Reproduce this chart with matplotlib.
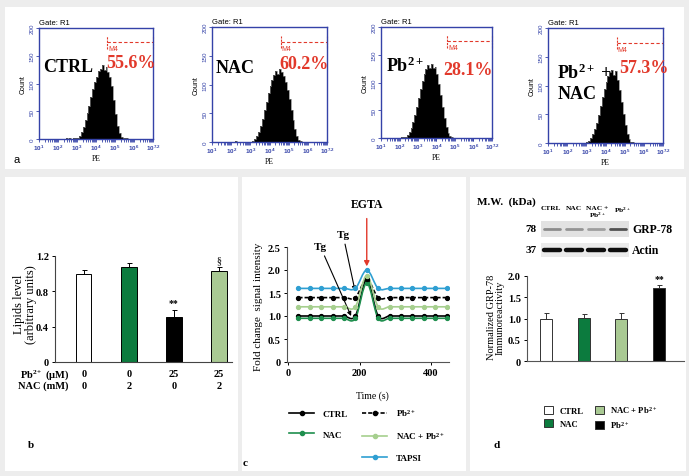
import numpy as np
import matplotlib
matplotlib.use('Agg')
import matplotlib.pyplot as plt
from matplotlib.patches import Rectangle, PathPatch, Patch
from matplotlib.path import Path
from matplotlib.lines import Line2D

plt.rcParams['font.family'] = ['Liberation Serif', 'DejaVu Serif']
plt.rcParams['font.weight'] = 'bold'
plt.rcParams['mathtext.fontset'] = 'custom'
plt.rcParams['mathtext.rm'] = 'Liberation Serif:bold'
plt.rcParams['mathtext.bf'] = 'Liberation Serif:bold'
plt.rcParams['mathtext.it'] = 'Liberation Serif:italic:bold'
plt.rcParams['mathtext.sf'] = 'Liberation Sans'

W, H = 689, 477

# ---- a: flow cytometry histograms (log10 PE bins, 2.0 .. 6.0) ----
pe_bin_start = 2.0
pe_bin_width = 0.1
counts_ctrl = [0, 0, 0, 0, 1, 0, 1, 0, 1, 1,
               2, 6, 12, 22, 34, 46, 60, 75, 90, 102,
               112, 122, 127, 133, 124, 130, 121, 112, 95, 70,
               45, 24, 10, 4, 2, 1, 1, 0, 0, 0]
counts_nac = [0, 0, 1, 0, 0, 0, 0, 0, 0, 0,
              0, 2, 5, 10, 17, 27, 40, 55, 70, 85,
              98, 108, 117, 124, 119, 127, 122, 115, 104, 90,
              74, 56, 38, 22, 11, 4, 1, 0, 0, 0]
counts_pb = [0, 1, 1, 2, 5, 10, 18, 28, 41, 56,
             72, 88, 102, 115, 124, 131, 127, 133, 126, 128,
             115, 98, 78, 56, 36, 20, 9, 3, 1, 0,
             0, 0, 0, 0, 0, 0, 0, 0, 0, 0]
counts_pb_nac = [0, 0, 0, 0, 0, 0, 0, 0, 0, 0,
                 1, 3, 8, 15, 24, 34, 48, 64, 80, 94,
                 106, 116, 123, 127, 119, 125, 110, 92, 72, 50,
                 31, 16, 7, 2, 1, 0, 0, 0, 0, 0]
hist_names = ['CTRL', 'NAC', 'Pb$^{2+}$', 'Pb$^{2+}$ +\nNAC']
hist_percent = ['55.6%', '60.2%', '28.1%', '57.3%']
m4_start = 4.58
m4_level = 174

# ---- b: lipids ----
lip_values = [1.0, 1.08, 0.51, 1.03]
lip_errors = [0.04, 0.04, 0.08, 0.05]
lip_pb = ['0', '0', '25', '25']
lip_nac = ['0', '2', '0', '2']
lip_marks = ['', '', '**', '§']

# ---- c: calcium traces ----
c_time = [28, 60, 92, 124, 156, 188, 220, 252, 284, 316, 348, 380, 412, 444]
c_ctrl = [1.0, 1.0, 1.0, 1.0, 1.0, 1.0, 1.78, 1.0, 1.0, 1.0, 1.0, 1.0, 1.0, 1.0]
c_nac = [0.95, 0.95, 0.95, 0.95, 0.95, 0.95, 1.72, 0.95, 0.95, 0.95, 0.95, 0.95, 0.95, 0.95]
c_pb = [1.4, 1.4, 1.4, 1.4, 1.4, 1.4, 1.8, 1.4, 1.4, 1.4, 1.4, 1.4, 1.4, 1.4]
c_nac_pb = [1.2, 1.2, 1.2, 1.2, 1.2, 1.2, 1.88, 1.2, 1.2, 1.2, 1.2, 1.2, 1.2, 1.2]
c_tapsi = [1.6, 1.6, 1.6, 1.6, 1.6, 1.6, 2.0, 1.6, 1.6, 1.6, 1.6, 1.6, 1.6, 1.6]

# ---- d: GRP-78 ----
grp_values = [1.0, 1.02, 0.98, 1.72]
grp_errors = [0.14, 0.09, 0.15, 0.08]
grp_marks = ['', '', '', '**']
band_grp = [0.45, 0.42, 0.38, 0.68]
band_actin = [0.95, 0.95, 0.95, 0.95]

blue = '#3442a8'
red = '#e2392b'
green = '#0c7b3e'
light_green = '#a9c993'
line_green = '#1f8f4e'
line_light = '#a6cf8e'
line_blue = '#2f9fd2'

fig = plt.figure(figsize=(W / 100, H / 100), dpi=100, facecolor='#ededed')


def add_ax(x0, y0, x1, y1):
    return fig.add_axes([x0 / W, 1 - y1 / H, (x1 - x0) / W, (y1 - y0) / H])


def add_panel(x0, y0, x1, y1):
    fig.patches.append(Rectangle((x0 / W, 1 - y1 / H), (x1 - x0) / W, (y1 - y0) / H,
                                 transform=fig.transFigure, facecolor='white',
                                 edgecolor='none', zorder=-1))


def ftext(x, y, s, **kw):
    fig.text(x / W, 1 - y / H, s, **kw)


add_panel(5, 8, 684, 170)
add_panel(5, 178, 238, 472)
add_panel(242, 178, 466, 472)
add_panel(470, 178, 686, 472)

# ================= panel a =================
hist_axes_px = [(39, 29, 153, 140), (212, 28, 327, 143), (381, 28, 492, 139), (548, 29, 663, 144)]
hist_counts = [counts_ctrl, counts_nac, counts_pb, counts_pb_nac]
name_pos = [(1.21, 130), (1.2, 130), (1.25, 131), (1.48, 106)]
pct_pos = [(4.53, 138), (4.51, 136), (4.37, 123), (4.72, 132)]
minor = [d + np.log10(m) for d in range(1, 7) for m in range(2, 10)]

for k in range(4):
    ax = add_ax(*hist_axes_px[k])
    counts = hist_counts[k]
    edges = pe_bin_start + pe_bin_width * np.arange(len(counts) + 1)
    ax.stairs(counts, edges, fill=True, color='black')
    ax.stairs(counts, edges, color='#7a7a7a', lw=0.5)
    ax.set_xlim(1, 7)
    ax.set_ylim(0, 200)
    for s in ax.spines.values():
        s.set_color(blue)
        s.set_linewidth(1.0)
    ax.set_xticks([1, 2, 3, 4, 5, 6, 7])
    ax.set_xticklabels([r'$\mathsf{10^{%s}}$' % t for t in ['1', '2', '3', '4', '5', '6', '7.2']])
    ax.set_xticks(minor, minor=True)
    ax.tick_params(axis='x', which='both', colors=blue, direction='out', length=2,
                   width=0.6, labelsize=4.5, pad=1)
    ax.set_yticks([0, 50, 100, 150, 200])
    ax.set_yticklabels(['0', '50', '100', '150', '200'], rotation=90, va='center',
                       family='Liberation Sans', fontweight='normal')
    ax.tick_params(axis='y', colors=blue, direction='out', length=2, width=0.6,
                   labelsize=4.5, pad=1)
    ax.set_ylabel('Count', fontsize=5, family='Liberation Sans', fontweight='normal',
                  labelpad=2)
    ax.set_xlabel('PE', fontsize=5.5, labelpad=1)
    ax.text(0.0, 1.015, 'Gate: R1', transform=ax.transAxes, fontsize=5.5,
            family='Liberation Sans', fontweight='normal', va='bottom')
    dash = (0, (3, 2))
    ax.plot([m4_start, 7], [m4_level, m4_level], color=red, lw=0.8, ls=dash, clip_on=False)
    ax.plot([m4_start, m4_start], [m4_level - 11, m4_level + 11], color=red, lw=0.8, ls=(0, (2, 1)), clip_on=False)
    ax.plot([7, 7], [m4_level - 11, m4_level + 11], color=red, lw=0.8, ls=(0, (2, 1)), clip_on=False)
    ax.text(m4_start + 0.05, m4_level - 5, 'M4', color=red, fontsize=5,
            family='Liberation Sans', fontweight='normal', va='top')
    ax.text(name_pos[k][0], name_pos[k][1], hist_names[k], fontsize=13, va='center',
            ha='left', linespacing=1.2)
    ax.text(pct_pos[k][0], pct_pos[k][1], hist_percent[k], fontsize=13, color=red,
            va='center', ha='left')

ftext(14, 160, 'a', fontsize=8, family='Liberation Sans', fontweight='normal', va='center')

# ================= panel b =================
axb = add_ax(55, 257, 232, 363)
xb = np.arange(len(lip_values))
bcolors = ['white', green, 'black', light_green]
axb.bar(xb, lip_values, width=0.34, color=bcolors, edgecolor='black', linewidth=0.7)
axb.errorbar(xb, lip_values, yerr=[[0] * 4, lip_errors], fmt='none', ecolor='black',
             elinewidth=0.7, capsize=1.8, capthick=0.7)
for i, m in enumerate(lip_marks):
    if m:
        axb.text(xb[i], lip_values[i] + lip_errors[i] + 0.03, m, ha='center', va='bottom',
                 fontsize=7, color='#333333' if m != '**' else 'black')
axb.set_xlim(-0.64, 3.29)
axb.set_ylim(0, 1.2)
axb.set_yticks([0, 0.4, 0.8, 1.2])
axb.set_yticklabels(['0', '0.4', '0.8', '1.2'])
axb.set_xticks([])
axb.tick_params(axis='y', labelsize=7.5, length=2.5, width=0.7, pad=2)
for s in ['top', 'right']:
    axb.spines[s].set_visible(False)
for s in ['left', 'bottom']:
    axb.spines[s].set_linewidth(0.8)
    axb.spines[s].set_color('#444444')
axb.set_ylabel('Lipids level\n(arbitrary units)', fontsize=9, linespacing=1.0)
axb.yaxis.set_label_coords(-0.10, 0.55)
tr = axb.get_xaxis_transform()
axb.text(-0.33, -0.113, 'Pb$^{2+}$ (µM)', transform=tr, ha='right', va='center', fontsize=7.5)
axb.text(-0.33, -0.217, 'NAC (mM)', transform=tr, ha='right', va='center', fontsize=7.5)
for i in range(4):
    axb.text(xb[i], -0.113, lip_pb[i], transform=tr, ha='center', va='center', fontsize=7.5)
    axb.text(xb[i], -0.217, lip_nac[i], transform=tr, ha='center', va='center', fontsize=7.5)
ftext(28, 446, 'b', fontsize=8, va='center')

# ================= panel c =================
axc = add_ax(287, 248, 449, 363)


def smooth_path(x, y):
    # Catmull-Rom style smoothing drawn as cubic Bezier segments
    x = np.asarray(x, float)
    y = np.asarray(y, float)
    n = len(x)
    verts = [(x[0], y[0])]
    codes = [Path.MOVETO]
    for i in range(n - 1):
        xa, ya = (x[i - 1], y[i - 1]) if i > 0 else (x[i], y[i])
        xd, yd = (x[i + 2], y[i + 2]) if i + 2 < n else (x[i + 1], y[i + 1])
        c1 = (x[i] + (x[i + 1] - xa) / 6, y[i] + (y[i + 1] - ya) / 6)
        c2 = (x[i + 1] - (xd - x[i]) / 6, y[i + 1] - (yd - y[i]) / 6)
        verts += [c1, c2, (x[i + 1], y[i + 1])]
        codes += [Path.CURVE4] * 3
    return Path(verts, codes)


c_series = [('CTRL', c_ctrl, 'black', '-'),
            ('NAC', c_nac, line_green, '-'),
            ('Pb$^{2+}$', c_pb, 'black', (0, (2.5, 1.2))),
            ('NAC + Pb$^{2+}$', c_nac_pb, line_light, '-'),
            ('TAPSI', c_tapsi, line_blue, '-')]
handles = {}
for lab, vals, col, ls in c_series:
    axc.add_patch(PathPatch(smooth_path(c_time, vals), facecolor='none', edgecolor=col,
                            lw=1.2, linestyle=ls, zorder=3))
    axc.plot(c_time, vals, 'o', color=col, ms=2.8, zorder=4)
    handles[lab] = Line2D([], [], color=col, ls=ls, lw=1.2, marker='o', ms=3)

axc.set_xlim(-4, 451)
axc.set_ylim(0, 2.5)
axc.set_xticks([0, 200, 400])
axc.set_yticks([0, 0.5, 1.0, 1.5, 2.0, 2.5])
axc.set_yticklabels(['0', '0.5', '1.0', '1.5', '2.0', '2.5'])
axc.tick_params(labelsize=7.5, length=2.5, width=0.7, pad=2)
for s in ['top', 'right']:
    axc.spines[s].set_visible(False)
for s in ['left', 'bottom']:
    axc.spines[s].set_linewidth(0.8)
    axc.spines[s].set_color('#555555')
axc.set_ylabel('Fold change  signal intensity', fontsize=8)
axc.yaxis.set_label_coords(-0.15, 0.49)
axc.set_xlabel('Time (s)', fontsize=7)
axc.xaxis.set_label_coords(0.53, -0.25)

axc.annotate('EGTA', xy=(220, 2.08), xytext=(220, 3.43), ha='center', va='center',
             fontsize=8.5, annotation_clip=False,
             arrowprops=dict(arrowstyle='-|>,head_length=0.35,head_width=0.18', color=red,
                             lw=1.0, shrinkA=4, shrinkB=0))
axc.annotate('Tg', xy=(187, 1.55), xytext=(153, 2.78), ha='center', va='center',
             fontsize=8, annotation_clip=False,
             arrowprops=dict(arrowstyle='-|>,head_length=0.3,head_width=0.15', color='black',
                             lw=0.8, shrinkA=2, shrinkB=0))
axc.annotate('Tg', xy=(176, 1.0), xytext=(89, 2.52), ha='center', va='center',
             fontsize=8, annotation_clip=False,
             arrowprops=dict(arrowstyle='-|>,head_length=0.3,head_width=0.15', color='black',
                             lw=0.8, shrinkA=2, shrinkB=0))

blank = Line2D([], [], ls='none')
leg_c = axc.legend([handles['CTRL'], handles['NAC'], blank,
                    handles['Pb$^{2+}$'], handles['NAC + Pb$^{2+}$'], handles['TAPSI']],
                   ['CTRL', 'NAC', '', 'Pb$^{2+}$', 'NAC + Pb$^{2+}$', 'TAPSI'],
                   ncol=2, frameon=False, loc='upper left',
                   bbox_to_anchor=(289 / W, 1 - 408 / H), bbox_transform=fig.transFigure,
                   fontsize=6.5, handlelength=2.8, handletextpad=0.9, columnspacing=1.6,
                   labelspacing=1.35, borderpad=0, borderaxespad=0)
ftext(243, 464, 'c', fontsize=8, va='center')

# ================= panel d =================
ftext(477, 202, 'M.W.  (kDa)', fontsize=8, va='center')
lane_labels = ['CTRL', 'NAC', 'NAC +\nPb$^{2+}$', 'Pb$^{2+}$']
lane_x = [551, 574, 597, 622]
for lx, ll in zip(lane_x, lane_labels):
    ftext(lx, 206, ll, fontsize=5.3, ha='center', va='top', linespacing=1.0)

for (y0, y1), bands, lw, bg, name, mw in [((222, 238), band_grp, 2.0, '#e2e2e2', 'GRP-78', '78'),
                                         ((244, 258), band_actin, 3.2, '#eaeaea', 'Actin', '37')]:
    axw = add_ax(541, y0, 629, y1)
    axw.set_facecolor(bg)
    for i, v in enumerate(bands):
        g = 1 - v
        axw.plot([i + 0.15, i + 0.85], [0.5, 0.5], color=(g, g, g), lw=lw,
                 solid_capstyle='round')
    axw.set_xlim(0, 4)
    axw.set_ylim(0, 1)
    axw.set_xticks([])
    axw.set_yticks([])
    for s in axw.spines.values():
        s.set_visible(False)
    ftext(632, (y0 + y1) / 2, name, fontsize=8.5, va='center', ha='left')
    ftext(537, (y0 + y1) / 2, mw, fontsize=8, va='center', ha='right')

axd = add_ax(527, 277, 684, 362)
xd = np.arange(len(grp_values))
dcolors = ['white', green, light_green, 'black']
axd.bar(xd, grp_values, width=0.32, color=dcolors, edgecolor='#333333', linewidth=0.7)
axd.errorbar(xd, grp_values, yerr=[[0] * 4, grp_errors], fmt='none', ecolor='#333333',
             elinewidth=0.7, capsize=1.8, capthick=0.7)
for i, m in enumerate(grp_marks):
    if m:
        axd.text(xd[i], grp_values[i] + grp_errors[i] + 0.03, m, ha='center', va='bottom',
                 fontsize=7)
axd.set_xlim(-0.5, 3.66)
axd.set_ylim(0, 2.0)
axd.set_yticks([0, 0.5, 1.0, 1.5, 2.0])
axd.set_yticklabels(['0', '0.5', '1.0', '1.5', '2.0'])
axd.set_xticks([])
axd.tick_params(axis='y', labelsize=7.5, length=2.5, width=0.7, pad=2)
for s in ['top', 'right']:
    axd.spines[s].set_visible(False)
for s in ['left', 'bottom']:
    axd.spines[s].set_linewidth(0.8)
    axd.spines[s].set_color('#555555')
axd.set_ylabel('Normalized GRP-78\nImmunoreactivity', fontsize=7.5, linespacing=1.0)
axd.yaxis.set_label_coords(-0.14, 0.52)

d_handles = [Patch(facecolor=c, edgecolor='#333333', linewidth=0.7) for c in dcolors]
axd.legend([d_handles[0], d_handles[1], d_handles[2], d_handles[3]],
           ['CTRL', 'NAC', 'NAC + Pb$^{2+}$', 'Pb$^{2+}$'],
           ncol=2, frameon=False, loc='upper left',
           bbox_to_anchor=(544 / W, 1 - 405 / H), bbox_transform=fig.transFigure,
           fontsize=6.2, handlelength=1.1, handleheight=1.1, handletextpad=0.7,
           columnspacing=1.3, labelspacing=0.45, borderpad=0, borderaxespad=0)
ftext(493, 446, 'd', fontsize=8, va='center')

fig.savefig('out.png', dpi=100, facecolor=fig.get_facecolor())
